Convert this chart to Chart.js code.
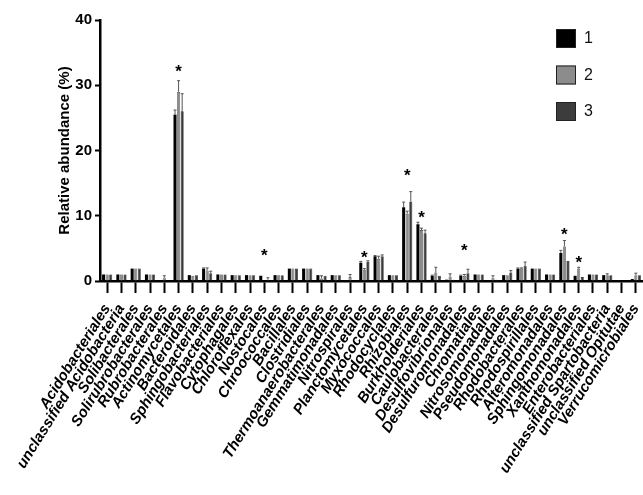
<!DOCTYPE html>
<html>
<head>
<meta charset="utf-8">
<script src="https://cdn.jsdelivr.net/npm/chart.js@4.4.0/dist/chart.umd.min.js"></script>
<style>
  html, body { margin: 0; padding: 0; background: #fff; }
</style>
</head>
<body>
<canvas id="myChart" width="643" height="495"></canvas>
<script>
// dados

const ordens = ['Acidobacteriales', 'unclassified Acidobacteria', 'Solibacterales', 'Solirubrobacterales',
  'Rubrobacterales', 'Actinomycetales', 'Bacteroidales', 'Sphingobacteriales', 'Flavobacteriales',
  'Cytophagales', 'Chloroflexales', 'Nostocales', 'Chroococcales', 'Bacillales', 'Clostridiales',
  'Thermoanaerobacterales', 'Gemmatimonadales', 'Nitrospirales', 'Planctomycetales', 'Myxococcales',
  'Rhodocyclales', 'Rhizobiales', 'Burkholderiales', 'Caulobacterales', 'Desulfovibrionales',
  'Desulfuromonadales', 'Chromatiales', 'Nitrosomonadales', 'Pseudomonadales', 'Rhodobacterales',
  'Rhodospirillales', 'Alteromonadales', 'Sphingomonadales', 'Xanthomonadales', 'Enterobacteriales',
  'unclassified Spartobacteria', 'unclassified Opitutae', 'Verrucomicrobiales']

const grupo1 = [1, 1, 1.9, 1, 0.1, 25.5, 0.9, 1.9, 1, 0.9, 0.9, 0.8, 0.9, 1.9, 1.9, 0.9, 0.9, 0.1, 2.8, 3.8,
  0.9, 11.3, 8.7, 0.8, 0.2, 0.8, 1, 0.1, 0.9, 1.9, 1.9, 1, 4.3, 0.8, 1, 0.9, 0.1, 0.3]
const grupo2 = [1, 1, 1.9, 1, 0.5, 29, 0.8, 1.6, 1, 0.9, 0.9, 0.1, 0.9, 1.9, 1.9, 0.4, 0.9, 0.6, 1.7, 3.4,
  0.9, 10.3, 7.8, 1.3, 0.7, 0.8, 1, 0.5, 0.9, 1.9, 1.9, 1, 5.3, 1.9, 1, 0.9, 0.1, 0.9]
const grupo3 = [1, 1, 1.9, 1, 0.1, 26, 0.9, 1.2, 1, 0.9, 0.9, 0.2, 0.9, 1.9, 1.9, 0.8, 0.9, 0.1, 2.9, 3.8,
  0.9, 12.2, 7.3, 0.6, 0.2, 1.2, 1, 0.2, 1.3, 2.3, 1.9, 1, 2.9, 0.6, 1, 0.9, 0.1, 0.9]

const erro1 = [0, 0, 0, 0, 0, 0.7, 0, 0.1, 0, 0, 0, 0, 0, 0, 0, 0, 0, 0, 0.2, 0.1,
  0, 0.8, 0.3, 0.1, 0, 0.1, 0, 0, 0, 0.1, 0, 0, 0.4, 0, 0, 0, 0, 0]
const erro2 = [0, 0, 0, 0, 0.3, 1.7, 0, 0.4, 0, 0, 0, 0, 0, 0, 0, 0.4, 0, 0.4, 0.2, 0.4,
  0, 0.4, 0.3, 0.8, 0.4, 0.2, 0, 0.3, 0, 0.1, 0, 0, 0.9, 0.2, 0, 0.2, 0, 0.3]
const erro3 = [0, 0, 0, 0, 0, 2.7, 0, 0.3, 0, 0, 0, 0.3, 0, 0, 0, 0, 0, 0, 0.2, 0.2,
  0, 1.5, 0.5, 0.1, 0, 0.6, 0, 0, 0.3, 0.6, 0, 0, 0.1, 0, 0, 0, 0, 0]

// asteriscos de significancia
const ordensAsterisco = ['Actinomycetales', 'Nostocales', 'Planctomycetales', 'Rhizobiales',
  'Burkholderiales', 'Desulfuromonadales', 'Sphingomonadales', 'Xanthomonadales']
const alturaAsterisco = [32.5, 4.3, 4.0, 16.5, 10.0, 5.0, 7.4, 3.1]

const fonte = 'Liberation Sans, Arial, sans-serif'


// barras de erro + asteriscos

const extras = {
  id: 'extras',
  afterDatasetsDraw(chart) {
    const ctx = chart.ctx
    const y = chart.scales.y
    const x = chart.scales.x
    const erros = [erro1, erro2, erro3]

    ctx.save()
    ctx.strokeStyle = '#555'
    ctx.lineWidth = 1
    chart.data.datasets.forEach(function (ds, i) {
      const meta = chart.getDatasetMeta(i)
      meta.data.forEach(function (bar, j) {
        const e = erros[i][j]
        if (!e) return
        const topo = y.getPixelForValue(ds.data[j] + e)
        ctx.beginPath()
        ctx.moveTo(bar.x, bar.y)
        ctx.lineTo(bar.x, topo)
        ctx.moveTo(bar.x - 1.5, topo)
        ctx.lineTo(bar.x + 1.5, topo)
        ctx.stroke()
      })
    })

    ctx.fillStyle = '#000'
    ctx.font = 'bold 17px ' + fonte
    ctx.textAlign = 'center'
    ctx.textBaseline = 'middle'
    ordensAsterisco.forEach(function (nome, k) {
      const px = x.getPixelForValue(ordens.indexOf(nome))
      const py = y.getPixelForValue(alturaAsterisco[k])
      ctx.fillText('*', px, py + 3)
    })
    ctx.restore()
  }
}

// legenda no canto

const legenda = {
  id: 'legenda',
  afterDraw(chart) {
    const ctx = chart.ctx
    ctx.save()
    chart.data.datasets.forEach(function (ds, i) {
      const topo = 29 + i * 36.5
      ctx.fillStyle = ds.backgroundColor
      ctx.fillRect(556, topo, 20, 19)
      ctx.strokeStyle = '#222'
      ctx.lineWidth = 1
      ctx.strokeRect(556.5, topo + 0.5, 19, 18)
      ctx.fillStyle = '#111'
      ctx.font = '16px ' + fonte
      ctx.textAlign = 'left'
      ctx.textBaseline = 'middle'
      ctx.fillText(ds.label, 584, topo + 10)
    })
    ctx.restore()
  }
}


const ctx = document.getElementById('myChart')

new Chart(ctx, {
  type: 'bar',
  data: {
    labels: ordens,
    datasets: [{
      label: '1',
      data: grupo1,
      backgroundColor: '#000000',
      borderColor: '#000000',
      borderWidth: 0
    }, {
      label: '2',
      data: grupo2,
      backgroundColor: '#8c8c8c',
      borderColor: '#333333',
      borderWidth: 0.6
    }, {
      label: '3',
      data: grupo3,
      backgroundColor: '#3c3c3c',
      borderColor: '#111111',
      borderWidth: 0.6
    }]
  },
  options: {
    responsive: false,
    animation: false,
    layout: {
      padding: { left: 52, top: 20, right: 0, bottom: 0 }
    },
    plugins: {
      legend: { display: false },
      tooltip: { enabled: false }
    },
    datasets: {
      bar: {
        categoryPercentage: 0.75,
        barPercentage: 0.85
      }
    },
    scales: {
      x: {
        offset: true,
        ticks: {
          autoSkip: false,
          minRotation: 58,
          maxRotation: 58,
          padding: 8,
          color: '#000',
          font: { family: fonte, size: 15, weight: 'bold', style: 'italic' }
        },
        grid: {
          offset: false,
          drawOnChartArea: false,
          tickLength: 12,
          tickWidth: 2,
          color: '#000'
        },
        border: { color: '#000', width: 2.5 },
        afterFit(scale) {
          scale.height = 214
          scale.paddingRight = 0
        }
      },
      y: {
        min: 0,
        max: 40,
        ticks: {
          stepSize: 10,
          padding: 3,
          color: '#000',
          font: { family: fonte, size: 15, weight: 'bold' }
        },
        grid: {
          drawOnChartArea: false,
          tickLength: 5,
          tickWidth: 2,
          color: '#000'
        },
        border: { color: '#000', width: 2.5 },
        title: {
          display: true,
          text: 'Relative abundance (%)',
          color: '#000',
          padding: { top: 4, bottom: 4 },
          font: { family: fonte, size: 15, weight: 'bold' }
        },
        afterFit(scale) {
          scale.width = 48
        }
      }
    }
  },
  plugins: [extras, legenda]
})
</script>
</body>
</html>
